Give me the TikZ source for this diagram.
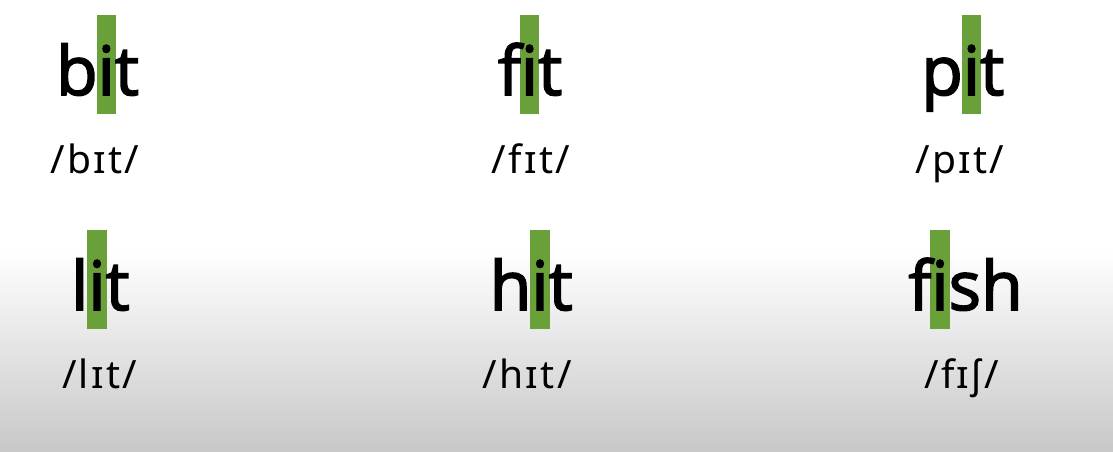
\documentclass[tikz,border=0pt]{standalone}
\usepackage{fontspec}
\setmainfont{Open Sans}
\newfontfamily\wordfont{Open Sans}[FakeBold=2.4]
\newfontfamily\ipafont{Noto Sans}[LetterSpace=6]
\definecolor{barg}{RGB}{106,160,58}
\definecolor{bgbot}{RGB}{200,200,200}
\tikzset{
  bar/.style={fill=barg, draw=none, inner sep=0pt, minimum width=19.5pt, minimum height=99pt},
  word/.style={anchor=base, inner sep=0pt, font=\wordfont\fontsize{68}{68}\selectfont},
  ipa/.style={anchor=base, inner sep=0pt, font=\ipafont\fontsize{39}{39}\selectfont},
}
\begin{document}
\begin{tikzpicture}[x=1pt,y=-1pt]
\useasboundingbox (0,0) rectangle (1113,452);
\fill[white] (0,0) rectangle (1113,252);
\fill[top color=white,bottom color=bgbot] (0,250) rectangle (1113,452);
% bars
\node[bar] (b1) at (106.3,64.5) {};
\node[bar] (b2) at (529.5,64.5) {};
\node[bar] (b3) at (971.5,64.5) {};
\node[bar] (b4) at (97,279.5) {};
\node[bar] (b5) at (540,279.5) {};
\node[bar] (b6) at (940,279.5) {};
% words
\node[word] (w1) at (106.3,95) {\llap{b}i\rlap{t}};
\node[word] (w2) at (529.5,95) {\llap{f}i\rlap{t}};
\node[word] (w3) at (971.5,95) {\llap{p}i\rlap{t}};
\node[word] (w4) at (97,310) {\llap{l}i\rlap{t}};
\node[word] (w5) at (540,310) {\llap{h}i\rlap{t}};
\node[word] (w6) at (940,310) {\llap{f}i\rlap{sh}};
% ipa
\node[ipa] (p1) at (95,173) {/bɪt/};
\node[ipa] (p2) at (531,173) {/fɪt/};
\node[ipa] (p3) at (960,173) {/pɪt/};
\node[ipa] (p4) at (99.5,388) {/lɪt/};
\node[ipa] (p5) at (527,388) {/hɪt/};
\node[ipa] (p6) at (961.5,388) {/fɪʃ/};
\end{tikzpicture}
\end{document}
